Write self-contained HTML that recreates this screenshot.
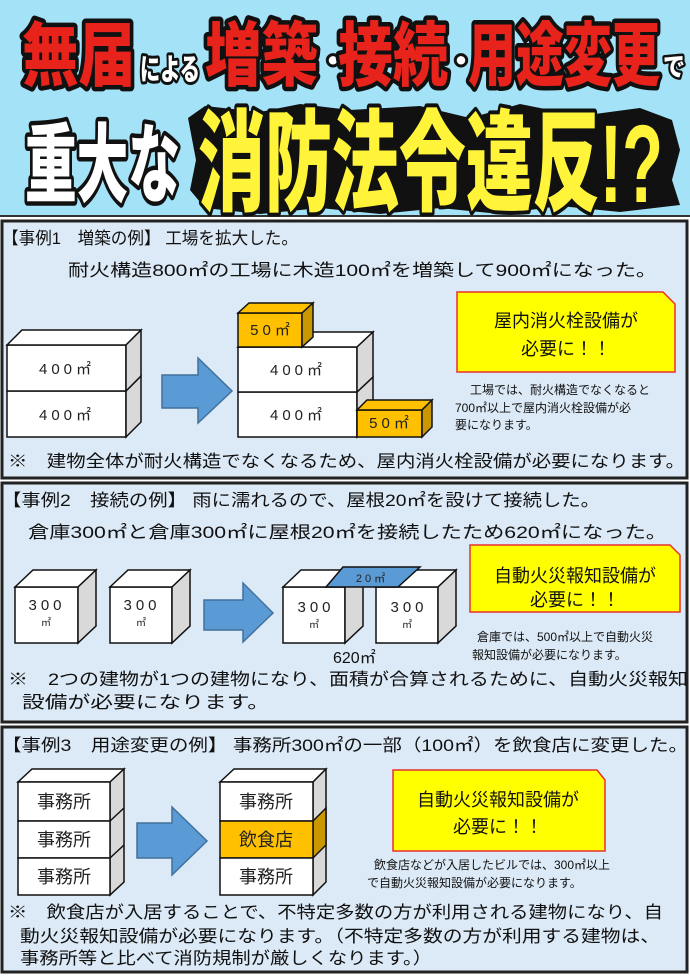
<!DOCTYPE html>
<html><head><meta charset="utf-8"><style>
html,body{margin:0;padding:0;background:#fff}
svg{display:block}
text{font-family:"Liberation Sans","Noto Sans CJK JP",sans-serif}
.t{font-size:17px;fill:#111}
.s{font-size:12px;fill:#111}
.c{font-size:18px;fill:#111;text-anchor:middle}
.bx{font-size:15px;fill:#222;text-anchor:middle;letter-spacing:4px}
.jb{font-size:18px;fill:#222;text-anchor:middle}
.H{font-family:"Noto Sans CJK JP",sans-serif;font-weight:900;paint-order:stroke;stroke-linejoin:round}
</style></head><body>
<svg width="690" height="976" viewBox="0 0 690 976" xmlns="http://www.w3.org/2000/svg">
<rect width="690" height="976" fill="#fff"/>
<rect x="0" y="0" width="690" height="216" fill="#a3e2f7"/>
<line x1="0" y1="216" x2="690" y2="216" stroke="#333" stroke-width="2"/>
<polygon points="188,118 205,106 260,112 300,104 350,110 420,106 470,118 520,104 580,116 640,108 672,120 680,150 672,180 680,205 620,212 560,206 500,214 440,208 380,214 320,208 260,214 205,208 190,190 196,160" fill="#111"/>
<g class="H">
<text x="22" y="80" font-size="70" textLength="113" lengthAdjust="spacingAndGlyphs" fill="#e8231b" stroke="#111" stroke-width="9">無届</text>
<text x="140" y="80" font-size="30" textLength="60" lengthAdjust="spacingAndGlyphs" fill="#fff" stroke="#111" stroke-width="6">による</text>
<text x="205" y="80" font-size="70" textLength="113" lengthAdjust="spacingAndGlyphs" fill="#e8231b" stroke="#111" stroke-width="9">増築</text>
<text x="318" y="72" font-size="30" fill="#fff" stroke="#111" stroke-width="6">・</text>
<text x="338" y="80" font-size="70" textLength="110" lengthAdjust="spacingAndGlyphs" fill="#e8231b" stroke="#111" stroke-width="9">接続</text>
<text x="446" y="72" font-size="30" fill="#fff" stroke="#111" stroke-width="6">・</text>
<text x="468" y="80" font-size="70" textLength="192" lengthAdjust="spacingAndGlyphs" fill="#e8231b" stroke="#111" stroke-width="9">用途変更</text>
<text x="663" y="76" font-size="26" textLength="22" lengthAdjust="spacingAndGlyphs" fill="#fff" stroke="#111" stroke-width="5">で</text>
<text x="25" y="195" font-size="86" textLength="155" lengthAdjust="spacingAndGlyphs" fill="#fff" stroke="#111" stroke-width="9">重大な</text>
<text x="198" y="202" font-size="110" textLength="465" lengthAdjust="spacingAndGlyphs" fill="#fff43a" stroke="#111" stroke-width="8">消防法令違反!?</text>
</g>

<g fill="#dce9f6" stroke="#222" stroke-width="3">
<rect x="2" y="221" width="685" height="257"/>
<rect x="2" y="483" width="685" height="239"/>
<rect x="2" y="727" width="685" height="245"/>
</g>

<text class="t" x="2" y="244" textLength="296" lengthAdjust="spacingAndGlyphs">【事例1　増築の例】 工場を拡大した。</text>
<text class="t" x="68" y="276" font-size="18" textLength="589" lengthAdjust="spacingAndGlyphs">耐火構造800㎡の工場に木造100㎡を増築して900㎡になった。</text>
<g stroke="#111" stroke-width="1.5">
<rect x="7" y="391" width="119" height="46" fill="#fff"/>
<polygon points="126,391 141,376 141,422 126,437" fill="#d9d9d9"/>
<rect x="7" y="345" width="119" height="46" fill="#fff"/>
<polygon points="7,345 22,330 141,330 126,345" fill="#fff"/>
<polygon points="126,345 141,330 141,376 126,391" fill="#d9d9d9"/>
<polygon points="162,375 198,375 198,358 232,391 198,423 198,408 162,408" fill="#5b9bd5" stroke="#41719c"/>
<rect x="238" y="392" width="119" height="45" fill="#fff"/>
<polygon points="357,392 373,377 373,422 357,437" fill="#d9d9d9"/>
<rect x="238" y="347" width="119" height="45" fill="#fff"/>
<polygon points="238,347 254,332 373,332 357,347" fill="#fff"/>
<polygon points="357,347 373,332 373,377 357,392" fill="#d9d9d9"/>
<rect x="238" y="313" width="64" height="34" fill="#ffc000"/>
<polygon points="238,313 249,303 313,303 302,313" fill="#ffc000"/>
<polygon points="302,313 313,303 313,337 302,347" fill="#c99800"/>
<rect x="357" y="410" width="65" height="27" fill="#ffc000"/>
<polygon points="357,410 367,400 432,400 422,410" fill="#ffc000"/>
<polygon points="422,410 432,400 432,427 422,437" fill="#c99800"/>
</g>
<text class="bx" x="67" y="374">400㎡</text>
<text class="bx" x="67" y="420">400㎡</text>
<text class="bx" x="298" y="375" font-size="13">400㎡</text>
<text class="bx" x="298" y="420" font-size="13">400㎡</text>
<text class="bx" x="272" y="335" font-size="13">50㎡</text>
<text class="bx" x="391" y="428" font-size="13">50㎡</text>
<polygon points="457,292 663,292 675,304 675,372 457,372" fill="#ffff00" stroke="#e83030" stroke-width="1.5"/>
<text class="c" x="566" y="327">屋内消火栓設備が</text>
<text class="c" x="566" y="355">必要に！！</text>
<text class="s" x="470" y="394">工場では、耐火構造でなくなると</text>
<text class="s" x="455" y="412">700㎡以上で屋内消火栓設備が必</text>
<text class="s" x="455" y="429">要になります。</text>
<text class="t" x="8" y="467" textLength="677" lengthAdjust="spacingAndGlyphs">※　建物全体が耐火構造でなくなるため、屋内消火栓設備が必要になります。</text>

<text class="t" x="2" y="506" textLength="598" lengthAdjust="spacingAndGlyphs">【事例2　接続の例】 雨に濡れるので、屋根20㎡を設けて接続した。</text>
<text class="t" x="28" y="538" font-size="18" textLength="639" lengthAdjust="spacingAndGlyphs">倉庫300㎡と倉庫300㎡に屋根20㎡を接続したため620㎡になった。</text>
<g stroke="#111" stroke-width="1.5">
<rect x="15" y="587" width="63" height="56" fill="#fff"/>
<polygon points="15,587 33,570 96,570 78,587" fill="#fff"/>
<polygon points="78,587 96,570 96,626 78,643" fill="#d9d9d9"/>
<rect x="110" y="587" width="62" height="56" fill="#fff"/>
<polygon points="110,587 128,570 190,570 172,587" fill="#fff"/>
<polygon points="172,587 190,570 190,626 172,643" fill="#d9d9d9"/>
<polygon points="204,600 243,600 243,583 273,613 243,642 243,630 204,630" fill="#5b9bd5" stroke="#41719c"/>
<rect x="283" y="587" width="62" height="56" fill="#fff"/>
<polygon points="283,587 301,570 363,570 345,587" fill="#fff"/>
<polygon points="345,587 363,570 363,626 345,643" fill="#d9d9d9"/>
<rect x="376" y="587" width="62" height="56" fill="#fff"/>
<polygon points="376,587 394,570 456,570 438,587" fill="#fff"/>
<polygon points="438,587 456,570 456,626 438,643" fill="#d9d9d9"/>
<polygon points="326,587 343,567 420,567 398,587" fill="#5b9bd5"/>
</g>
<text x="372" y="582" font-size="11" fill="#222" text-anchor="middle" letter-spacing="3">20㎡</text>
<text class="bx" x="47" y="610" font-size="13">300</text><text x="46" y="626" font-size="10" fill="#222" text-anchor="middle">㎡</text>
<text class="bx" x="142" y="610" font-size="13">300</text><text x="141" y="626" font-size="10" fill="#222" text-anchor="middle">㎡</text>
<text class="bx" x="316" y="612" font-size="14">300</text><text x="314" y="628" font-size="10" fill="#222" text-anchor="middle">㎡</text>
<text class="bx" x="409" y="612" font-size="14">300</text><text x="407" y="628" font-size="10" fill="#222" text-anchor="middle">㎡</text>
<text x="333" y="663" font-size="16" fill="#111">620㎡</text>
<polygon points="470,545 670,545 680,555 680,612 470,612" fill="#ffff00" stroke="#e83030" stroke-width="1.5"/>
<text class="c" x="575" y="582">自動火災報知設備が</text>
<text class="c" x="575" y="606">必要に！！</text>
<text class="s" x="477" y="641">倉庫では、500㎡以上で自動火災</text>
<text class="s" x="472" y="659">報知設備が必要になります。</text>
<text class="t" x="8" y="685" textLength="680" lengthAdjust="spacingAndGlyphs">※　2つの建物が1つの建物になり、面積が合算されるために、自動火災報知</text>
<text class="t" x="22" y="708" textLength="248" lengthAdjust="spacingAndGlyphs">設備が必要になります。</text>

<text class="t" x="2" y="751" textLength="686" lengthAdjust="spacingAndGlyphs">【事例3　用途変更の例】 事務所300㎡の一部（100㎡）を飲食店に変更した。</text>
<g stroke="#111" stroke-width="1.5">
<polygon points="18,782 32,769 124,769 110,782" fill="#fff"/>
<polygon points="110,782 124,769 124,882 110,895" fill="#d9d9d9"/>
<rect x="18" y="782" width="92" height="39" fill="#fff"/>
<rect x="18" y="821" width="92" height="37" fill="#fff"/>
<rect x="18" y="858" width="92" height="37" fill="#fff"/>
<line x1="110" y1="821" x2="124" y2="808"/><line x1="110" y1="858" x2="124" y2="845"/>
<polygon points="137,823 172,823 172,807 207,841 172,875 172,858 137,858" fill="#5b9bd5" stroke="#41719c"/>
<polygon points="220,782 234,769 326,769 313,782" fill="#fff"/>
<polygon points="313,782 326,769 326,882 313,895" fill="#d9d9d9"/>
<polygon points="313,821 326,808 326,845 313,858" fill="#c99800"/>
<rect x="220" y="782" width="93" height="39" fill="#fff"/>
<rect x="220" y="821" width="93" height="37" fill="#ffc000"/>
<rect x="220" y="858" width="93" height="37" fill="#fff"/>
</g>
<text class="jb" x="64" y="808">事務所</text>
<text class="jb" x="64" y="846">事務所</text>
<text class="jb" x="64" y="883">事務所</text>
<text class="jb" x="266" y="808">事務所</text>
<text class="jb" x="266" y="846">飲食店</text>
<text class="jb" x="266" y="883">事務所</text>
<polygon points="393,770 597,770 605,780 605,851 393,851" fill="#ffff00" stroke="#e83030" stroke-width="1.5"/>
<text class="c" x="498" y="806">自動火災報知設備が</text>
<text class="c" x="498" y="833">必要に！！</text>
<text class="s" x="374" y="869">飲食店などが入居したビルでは、300㎡以上</text>
<text class="s" x="367" y="887">で自動火災報知設備が必要になります。</text>
<text class="t" x="8" y="918" textLength="655" lengthAdjust="spacingAndGlyphs">※　飲食店が入居することで、不特定多数の方が利用される建物になり、自</text>
<text class="t" x="20" y="942" textLength="640" lengthAdjust="spacingAndGlyphs">動火災報知設備が必要になります。（不特定多数の方が利用する建物は、</text>
<text class="t" x="20" y="964" textLength="412" lengthAdjust="spacingAndGlyphs">事務所等と比べて消防規制が厳しくなります。）</text>
</svg>
</body></html>
